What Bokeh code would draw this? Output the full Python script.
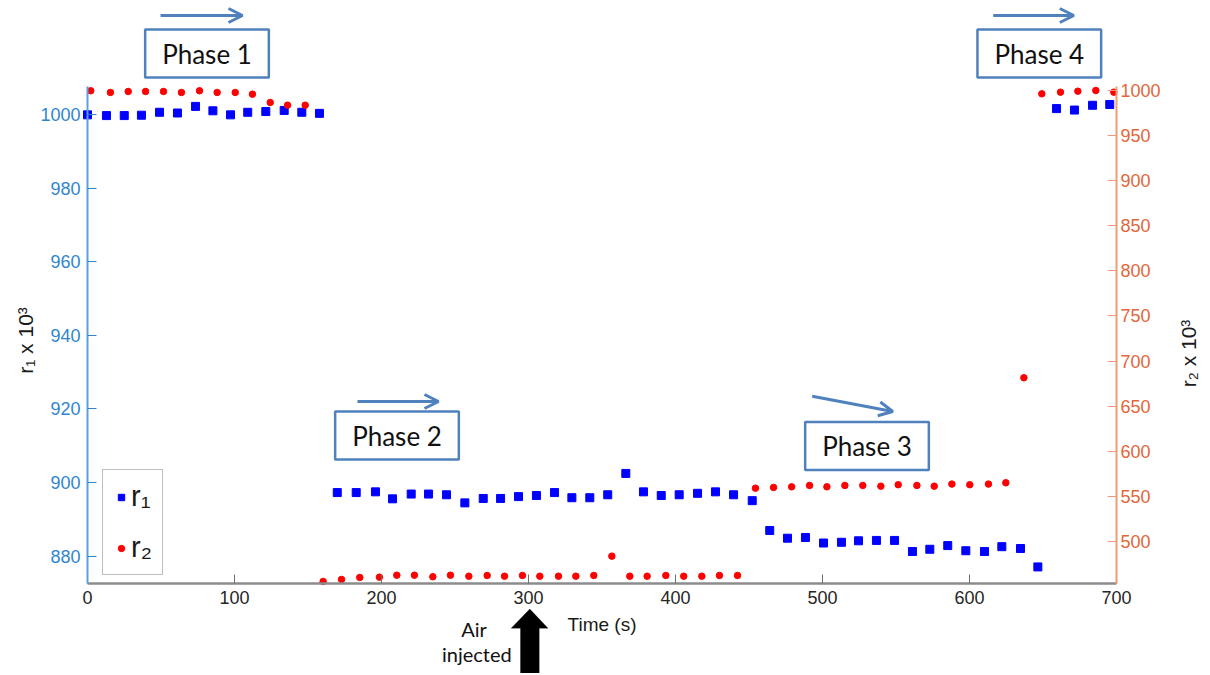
from bokeh.plotting import figure
from bokeh.models import (Range1d, LinearAxis, FixedTicker, Label, Arrow, OpenHead,
                          PolyAnnotation, Legend, LegendItem)
from bokeh.embed import file_html
from bokeh.resources import INLINE

# ---------------- data ----------------
r1_time = [0, 12.9, 25.0, 36.7, 49.0, 61.2, 73.5, 85.3, 97.3, 109.0, 121.3, 133.8, 145.8, 157.8,
           169.9, 182.8, 195.9, 207.5, 220.2, 232.0, 244.2, 256.7, 269.2, 281.0, 293.2, 305.4,
           317.7, 329.5, 341.7, 353.9, 366.2, 378.2, 390.3, 402.5, 415.0, 427.2, 439.5, 452.2,
           464.1, 476.2, 488.4, 500.7, 512.9, 524.5, 536.7, 549.0, 561.2, 573.0, 585.2, 597.5,
           610.2, 622.0, 634.7, 646.5,
           659.2, 671.4, 683.7, 695.4]
r1_values = [999.9, 999.7, 999.7, 999.8, 1000.6, 1000.4, 1002.2, 1001.0, 999.9, 1000.6, 1000.8, 1001.1, 1000.6, 1000.3,
             897.3, 897.3, 897.5, 895.6, 896.9, 896.9, 896.7, 894.5, 895.7, 895.7, 896.2, 896.5,
             897.3, 895.9, 895.9, 896.7, 902.5, 897.5, 896.5, 896.7, 897.1, 897.5, 896.7, 895.1,
             887.0, 884.9, 885.1, 883.6, 883.8, 884.2, 884.3, 884.3, 881.3, 881.9, 882.9, 881.5,
             881.3, 882.6, 882.1, 877.1,
             1001.6, 1001.2, 1002.5, 1002.7]

r2_time = [2.2, 15.6, 27.7, 39.5, 51.7, 63.9, 76.2, 88.2, 100.5, 112.2, 124.3, 136.1, 148.1,
           160.3, 172.8, 185.2, 198.6, 210.4, 222.4, 234.9, 246.9, 259.4, 271.9, 283.7, 295.9,
           307.7, 320.4, 332.2, 344.4, 356.7, 368.9, 380.7, 393.4, 405.6, 417.9, 429.9, 442.2,
           454.4, 466.7, 479.0, 491.2, 503.0, 515.2, 527.4, 539.7, 551.5, 564.2, 576.0, 588.0,
           600.2, 612.9, 624.7, 637.0,
           649.2, 661.9, 673.7, 685.9, 698.2]
r2_values = [999.7, 997.8, 998.9, 998.9, 998.9, 997.8, 999.7, 997.8, 997.8, 995.9, 986.7, 983.7, 983.7,
             455.7, 457.9, 460.1, 460.4, 462.6, 462.6, 460.9, 462.6, 461.5, 462.3, 461.5, 462.3,
             461.5, 461.5, 461.5, 462.3, 483.7, 461.5, 461.5, 462.3, 461.5, 461.5, 462.3, 462.3,
             559.1, 559.9, 560.6, 562.1, 560.6, 562.1, 562.1, 561.3, 562.9, 562.1, 561.3, 563.6,
             562.9, 563.6, 565.1, 681.5,
             996.3, 998.1, 999.2, 1000.0, 998.1]

x_ticks = [0, 100, 200, 300, 400, 500, 600, 700]
r1_ticks = [880, 900, 920, 940, 960, 980, 1000]
r2_ticks = [500, 550, 600, 650, 700, 750, 800, 850, 900, 950, 1000]
series_labels = ["r\u2081", "r\u2082"]
phase_labels = ["Phase 1", "Phase 2", "Phase 3", "Phase 4"]
x_title = "Time (s)"
y1_title = "r\u2081 x 10\u00b3"
y2_title = "r\u2082 x 10\u00b3"
note_lines = ["Air", "injected"]

# ---------------- ranges / layout ----------------
X0, X1 = 0, 700          # axis extents (data)
Y0, Y1 = 872.6, 1007.6
R0, R1 = 453.4, 1004.4

W, H = 1208, 673
FL, FR, FT, FB = 87, 1116, 86, 583   # axis box edges on the canvas (px)

def tx(px):
    return X0 + (px - FL) / (FR - FL) * (X1 - X0)

def ly(py):
    return Y0 + (FB - py) / (FB - FT) * (Y1 - Y0)

def lr(py):
    return R0 + (FB - py) / (FB - FT) * (R1 - R0)

BLUE_AX = "#2F86D0"
BLUE_AXL = "#5AA0DC"
ORANGE_AX = "#E2663A"
ORANGE_AXL = "#F09A78"
BOX_BLUE = "#4F81BD"
TICK_FONT = "Liberation Sans"

p = figure(width=W, height=H, output_backend="svg", toolbar_location=None,
           x_range=Range1d(tx(0), tx(W)), y_range=Range1d(ly(H), ly(0)),
           min_border_left=0, min_border_right=0, min_border_top=0, min_border_bottom=0,
           x_axis_location=None, y_axis_location=None)
p.extra_y_ranges = {"r2": Range1d(lr(H), lr(0))}
p.outline_line_color = None
p.grid.visible = False
p.background_fill_color = "white"
p.border_fill_color = "white"

# bottom axis
xa = LinearAxis(ticker=FixedTicker(ticks=x_ticks), fixed_location=Y0, bounds=(X0, X1))
xa.axis_line_color = "#8c8c8c"
xa.axis_line_width = 2.5
xa.major_tick_line_color = "#707070"
xa.major_tick_in = 9
xa.major_tick_out = 0
xa.minor_tick_line_color = None
xa.major_label_text_font = TICK_FONT
xa.major_label_text_font_size = "18px"
xa.major_label_text_color = "#262626"
xa.major_label_standoff = 7
xa.axis_label = x_title
xa.axis_label_text_font = TICK_FONT
xa.axis_label_text_font_size = "19px"
xa.axis_label_text_font_style = "normal"
xa.axis_label_text_color = "#1a1a1a"
xa.axis_label_standoff = 7
p.add_layout(xa, "below")

# left axis
ya = LinearAxis(ticker=FixedTicker(ticks=r1_ticks), fixed_location=X0, bounds=(Y0, Y1))
ya.axis_line_color = BLUE_AXL
ya.axis_line_width = 2
ya.major_tick_line_color = BLUE_AX
ya.major_tick_in = 9
ya.major_tick_out = 0
ya.minor_tick_line_color = None
ya.major_label_text_font = TICK_FONT
ya.major_label_text_font_size = "18px"
ya.major_label_text_color = BLUE_AX
ya.major_label_standoff = 7
p.add_layout(ya, "left")

# right axis
ra = LinearAxis(y_range_name="r2", ticker=FixedTicker(ticks=r2_ticks), fixed_location=X1,
                bounds=(R0, R1))
ra.axis_line_color = ORANGE_AXL
ra.axis_line_width = 2
ra.major_tick_line_color = ORANGE_AXL
ra.major_tick_in = 9
ra.major_tick_out = 0
ra.minor_tick_line_color = None
ra.major_label_text_font = TICK_FONT
ra.major_label_text_font_size = "18px"
ra.major_label_text_color = ORANGE_AX
ra.major_label_standoff = 4
p.add_layout(ra, "right")

# data
sq = p.scatter(r1_time, r1_values, marker="square", size=8, color="#0000FF")
ci = p.scatter(r2_time, r2_values, marker="circle", size=6.5, color="#FF0000", y_range_name="r2")

legend = Legend(items=[LegendItem(label=series_labels[0], renderers=[sq]),
                       LegendItem(label=series_labels[1], renderers=[ci])],
                location=(102, H - 575))
legend.label_text_font = TICK_FONT
legend.label_text_font_size = "29px"
legend.label_text_color = "#1a1a1a"
legend.border_line_color = "#7f7f7f"
legend.border_line_width = 1
legend.background_fill_alpha = 1
legend.padding = 10
legend.spacing = 18
legend.glyph_width = 16
legend.glyph_height = 20
legend.label_standoff = 2
legend.label_height = 33
p.add_layout(legend)

# y titles
p.add_layout(Label(x=tx(25), y=ly(340), text=y1_title, angle=1.5708,
                   text_align="center", text_baseline="middle",
                   text_font=TICK_FONT, text_font_size="21px", text_color="#1a1a1a"))
p.add_layout(Label(x=tx(1188), y=ly(353), text=y2_title, angle=1.5708,
                   text_align="center", text_baseline="middle",
                   text_font=TICK_FONT, text_font_size="21px", text_color="#1a1a1a"))

# phase boxes (canvas centre px)
phase_pos = [(206.5, 53), (396.5, 435), (866.5, 445.5), (1038.8, 53)]
for txt, (cx, cy) in zip(phase_labels, phase_pos):
    p.add_layout(Label(x=tx(cx), y=ly(cy), text=txt, text_align="center", text_baseline="middle",
                       text_font="Lato", text_font_size="26px", text_color="#111111",
                       background_fill_color="white", border_line_color=BOX_BLUE,
                       border_line_width=2.5, padding=(17, 8)))

# arrows (canvas px)
arrows = [((160, 15), (242, 15)), ((357, 401), (438, 401)),
          ((811.7, 395.7), (892.3, 411)), ((992.7, 15), (1073.3, 15))]
for (sx, sy), (ex, ey) in arrows:
    p.add_layout(Arrow(x_start=tx(sx), y_start=ly(sy), x_end=tx(ex), y_end=ly(ey),
                       line_color=BOX_BLUE, line_width=3,
                       end=OpenHead(size=14, line_color=BOX_BLUE, line_width=3)))

# black "air injected" arrow
poly_px = [(529.3, 608.5), (547.5, 627.7), (538.7, 627.7), (538.7, 680), (520, 680),
           (520, 627.7), (510.7, 627.7)]
p.add_layout(PolyAnnotation(xs=[tx(a) for a, b in poly_px], ys=[ly(b) for a, b in poly_px],
                            fill_color="black", fill_alpha=1, line_color="black"))
for txt, (cx, cy) in zip(note_lines, [(473.5, 628.5), (476.3, 653)]):
    p.add_layout(Label(x=tx(cx), y=ly(cy), text=txt, text_align="center", text_baseline="middle",
                       text_font="Lato", text_font_size="20px", text_color="#111111"))

open("out.html", "w").write(file_html(p, INLINE))
